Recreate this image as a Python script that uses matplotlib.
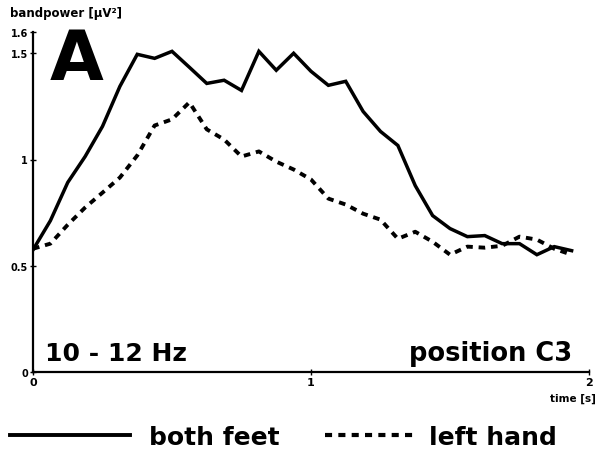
import numpy as np
import matplotlib
matplotlib.use("Agg")
import matplotlib.pyplot as plt
from matplotlib.lines import Line2D

# tiempo en s, muestreo cada 1/16 s
t = np.arange(32) / 16.0

# bandpower [uV^2], 10-12 Hz, posicion C3
both_feet = [0.575, 0.712, 0.892, 1.014, 1.156, 1.344, 1.495, 1.476,
             1.509, 1.434, 1.358, 1.373, 1.325, 1.509, 1.420, 1.500,
             1.415, 1.349, 1.368, 1.226, 1.132, 1.066, 0.877, 0.736,
             0.675, 0.637, 0.642, 0.604, 0.604, 0.552, 0.590, 0.571]
left_hand = [0.580, 0.604, 0.693, 0.774, 0.844, 0.915, 1.019, 1.160,
             1.189, 1.269, 1.142, 1.094, 1.014, 1.038, 0.990, 0.953,
             0.906, 0.816, 0.788, 0.745, 0.717, 0.627, 0.660, 0.613,
             0.552, 0.590, 0.585, 0.594, 0.637, 0.623, 0.580, 0.552]

yticks = [0, 0.5, 1, 1.5, 1.6]
ylabels = ["0", "0.5", "1", "1.5", "1.6"]
xticks = [0, 1, 2]
xlabels = ["0", "1", "2"]

fig = plt.figure(figsize=(5.98, 4.52), dpi=100)
ax = fig.add_axes([33/598, 1-373/452, (589-33)/598, (373-33)/452])

ax.plot(t, both_feet, color="black", lw=2.5, solid_joinstyle="miter")
ax.plot(t, left_hand, color="black", lw=2.8, dashes=(1.7, 1.5))

ax.set_xlim(0, 2)
ax.set_ylim(0, 1.6)
for s in ["top", "right"]:
    ax.spines[s].set_visible(False)
ax.spines["left"].set_linewidth(1.6)
ax.spines["bottom"].set_linewidth(1.6)

ax.set_yticks(yticks)
ax.set_yticklabels(ylabels, fontsize=7, fontweight="bold")
ax.set_xticks(xticks)
ax.set_xticklabels(xlabels, fontsize=8, fontweight="bold")
ax.tick_params(direction="inout", length=5, width=1, pad=1)

ax.text(0.03, 0.862, "A", transform=ax.transAxes, fontsize=50,
        fontweight="heavy", va="baseline", ha="left")
ax.text(0.022, 0.034, "10 - 12 Hz", transform=ax.transAxes, fontsize=18,
        fontweight="heavy", va="baseline", ha="left")
ax.text(0.97, 0.034, "position C3", transform=ax.transAxes, fontsize=18.5,
        fontweight="heavy", va="baseline", ha="right")

fig.text(10/598, 1-14/452, "bandpower [µV²]", fontsize=8.5, fontweight="bold",
         va="center", ha="left")
fig.text(596/598, 1-399/452, "time [s]", fontsize=7.5, fontweight="bold",
         va="center", ha="right")

# leyenda
fig.add_artist(Line2D([10/598, 130/598], [1-436/452, 1-436/452],
                      color="black", lw=2.8))
fig.add_artist(Line2D([325/598, 415/598], [1-436/452, 1-436/452],
                      color="black", lw=3, dashes=(1.7, 1.5)))
fig.text(149/598, 1-445/452, "both feet", fontsize=18, fontweight="heavy",
         va="baseline", ha="left")
fig.text(429/598, 1-445/452, "left hand", fontsize=18, fontweight="heavy",
         va="baseline", ha="left")

fig.savefig("out.png", dpi=100)
